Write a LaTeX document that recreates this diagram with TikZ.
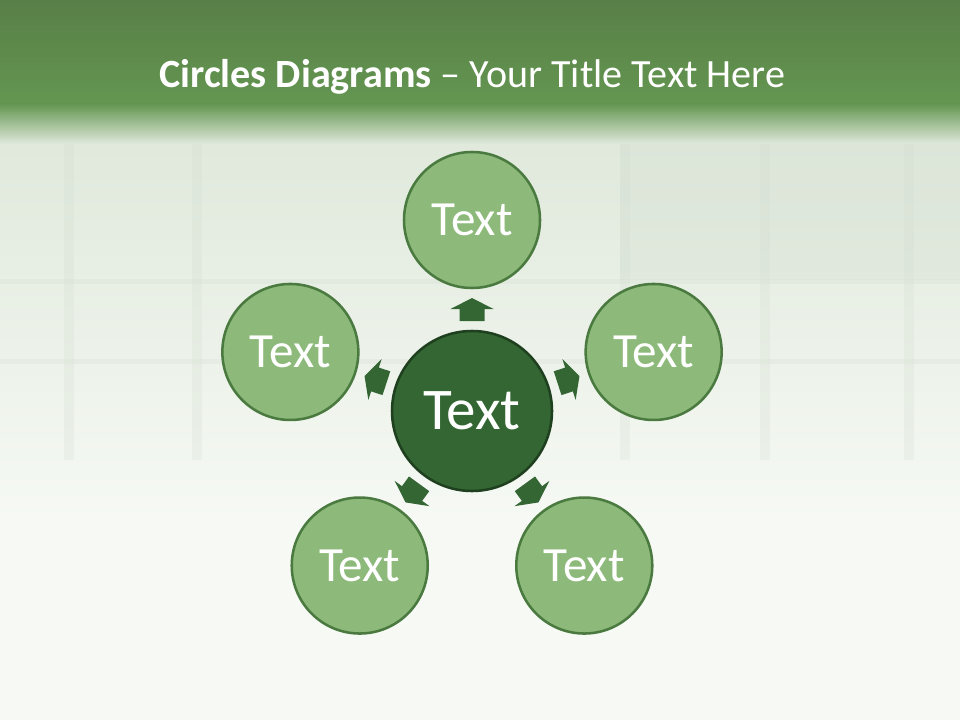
\documentclass[tikz,border=0pt]{standalone}
\usepackage{fontspec}
\setmainfont{Carlito}
\usetikzlibrary{calc}

\definecolor{bandtop}{HTML}{587F47}
\definecolor{bandmid}{HTML}{649651}
\definecolor{paper}{HTML}{F6F9F4}
\definecolor{haze}{HTML}{E0E9DC}
\definecolor{grid}{HTML}{D3DDD0}
\definecolor{leaffill}{HTML}{8DBA7B}
\definecolor{leafline}{HTML}{4A7A3F}
\definecolor{hubfill}{HTML}{336633}
\definecolor{hubline}{HTML}{1F401F}

\tikzset{
    leaf/.style={circle, draw=leafline, line width=1.8pt, fill=leaffill,
        minimum size=3.4cm, inner sep=0pt, text=white,
        font=\fontsize{35}{35}\selectfont},
    hub/.style={circle, draw=hubline, line width=1.8pt, fill=hubfill,
        minimum size=4cm, inner sep=0pt, text=white,
        font=\fontsize{42}{42}\selectfont},
    push/.style={fill=hubfill, draw=none},
    title/.style={text=white, font=\fontsize{28.5}{28.5}\selectfont, anchor=base}
}

\begin{document}
\begin{tikzpicture}
    \useasboundingbox (0,0) rectangle (24,18);

    % background
    \fill[paper] (0,0) rectangle (24,18);
    \shade[top color=haze, bottom color=paper] (0,14.4) rectangle (24,5);
    \foreach \gx in {1.6, 4.8, 15.5, 19, 22.6}
        \fill[grid, opacity=0.25] (\gx,14.4) rectangle (\gx+0.25,6.5);
    \foreach \gy in {10.9, 8.9}
        \fill[grid, opacity=0.25] (0,\gy) rectangle (24,\gy+0.12);
    \fill[grid, opacity=0.3] (15.5,14.4) rectangle (24,11);

    % title band
    \shade[top color=bandtop, bottom color=bandmid] (0,18) rectangle (24,15.4);
    \shade[top color=bandmid, bottom color=haze] (0,15.4) rectangle (24,14.4);
    \node[title] (head) at (11.81,15.8) {\textbf{Circles Diagrams} – Your Title Text Here};

    % circles
    \node[hub] (hub) at (11.8,7.725) {Text};
    \foreach \a/\n in {90/t, 162/l, 234/bl, 306/br, 18/r}
        \node[leaf] (\n) at ($(hub)+(\a:4.775)$) {Text};

    % arrows
    \foreach \n in {t, l, bl, br, r} {
        \coordinate (s) at ($(hub)!2.25cm!(\n)$);
        \coordinate (m) at ($(hub)!2.55cm!(\n)$);
        \coordinate (p) at ($(hub)!2.825cm!(\n)$);
        \fill[push] ($(s)!0.3125cm!90:(\n)$) -- ($(m)!0.3125cm!90:(\n)$)
            -- ($(m)!0.5375cm!90:(\n)$) -- (p) -- ($(m)!0.5375cm!-90:(\n)$)
            -- ($(m)!0.3125cm!-90:(\n)$) -- ($(s)!0.3125cm!-90:(\n)$) -- cycle;
    }
\end{tikzpicture}
\end{document}
